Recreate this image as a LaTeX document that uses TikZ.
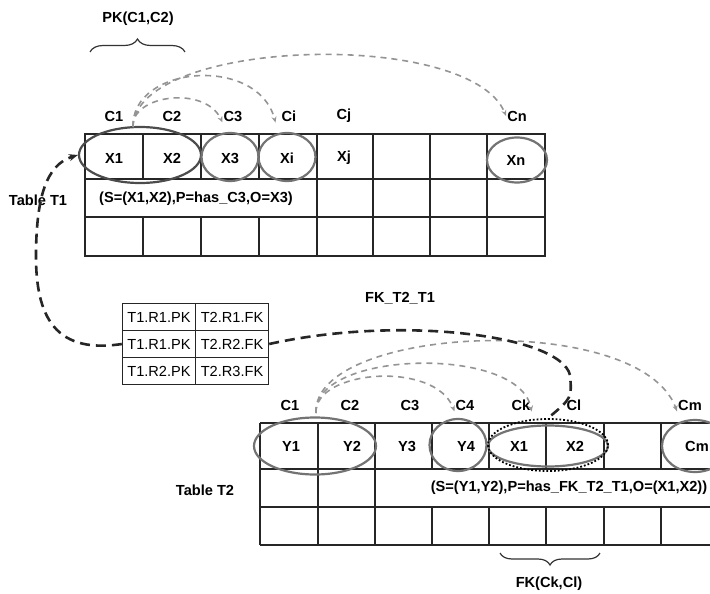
\documentclass[tikz,border=0pt]{standalone}
\usepackage{fontspec}
\setmainfont{Liberation Sans}
\usetikzlibrary{arrows.meta, calc, shapes.geometric, decorations.pathreplacing}
\tikzset{
  hdr/.style    = {font=\fontsize{14.6}{16}\selectfont\bfseries, inner sep=1pt},
  val/.style    = {hdr},
  tlab/.style   = {hdr},
  mcell/.style  = {draw=black!85, line width=1.4pt, minimum width=73pt, minimum height=27pt,
                   inner sep=0pt, font=\fontsize{14.6}{16}\selectfont},
  grid/.style   = {draw=black!85, line width=1.3pt},
  frame/.style  = {draw=black!85, line width=2pt},
  oval/.style   = {ellipse, draw=black!55, line width=2.2pt, inner sep=0pt},
  dotoval/.style= {ellipse, draw=black, line width=1.8pt, dotted, inner sep=0pt},
  arcl/.style   = {-{Stealth[length=6pt, width=5pt]}, draw=black!42, line width=1.6pt,
                   dash pattern=on 6pt off 5pt},
  fkl/.style    = {-{Stealth[length=9pt, width=7pt]}, draw=black!85, line width=2.6pt,
                   dash pattern=on 10pt off 6pt},
  brc/.style    = {decorate, draw=black!80, line width=1.2pt},
}

\begin{document}
\begin{tikzpicture}[x=1pt, y=-1pt]
  \useasboundingbox (0,0) rectangle (710,594);

  % table T1
  \draw[frame] (85,134) rectangle (545,256);
  \draw[grid] (85,179) -- (545,179) (85,217) -- (545,217);
  \foreach \x in {143,201,259}
    \draw[grid] (\x,134) -- (\x,179) (\x,217) -- (\x,256);
  \foreach \x in {317,373,430,487}
    \draw[grid] (\x,134) -- (\x,256);

  \node[hdr] (t1c1) at (114,116) {C1};
  \node[hdr] (t1c2) at (172,116) {C2};
  \node[hdr] (t1c3) at (233,116) {C3};
  \node[hdr] (t1ci) at (289,116) {Ci};
  \node[hdr] (t1cj) at (344,116) {Cj};
  \node[hdr] (t1cn) at (517,116) {Cn};

  \node[val] (t1x1) at (114,158) {X1};
  \node[val] (t1x2) at (172,158) {X2};
  \node[val] (t1x3) at (230,158) {X3};
  \node[val] (t1xi) at (287,158) {Xi};
  \node[val] (t1xj) at (344,158) {Xj};
  \node[val] (t1xn) at (516,160) {Xn};
  \node[val] (t1tr) at (196,199) {(S=(X1,X2),P=has\_C3,O=X3)};
  \node[tlab] (t1lab) at (38,200) {Table T1};

  \node[oval, draw=black!70, minimum width=122pt, minimum height=56pt] (pk1) at (140,155) {};
  \node[oval, minimum width=57pt, minimum height=48pt] (ov3) at (230,157) {};
  \node[oval, minimum width=57pt, minimum height=48pt] (ovi) at (287,157) {};
  \node[oval, minimum width=60pt, minimum height=45pt] (ovn) at (517,160) {};

  \node[hdr] (pklab) at (138,19) {PK(C1,C2)};
  \draw[brc, decoration={brace, amplitude=13pt}] (90,52) -- (185,52);

  \coordinate (o1) at (133,127);
  \draw[arcl] (o1) .. controls (131,95) and (205,85) .. (t1c3.south west);
  \draw[arcl] (o1) .. controls (131,65) and (258,55) .. ([xshift=-5pt]t1ci.south west);
  \draw[arcl] (o1) .. controls (135,38) and (470,28) .. (t1cn.west);

  % link table
  \node[mcell] (m11) at (159,317) {T1.R1.PK};
  \node[mcell] (m12) at (232,317) {T2.R1.FK};
  \node[mcell] (m21) at (159,344) {T1.R1.PK};
  \node[mcell] (m22) at (232,344) {T2.R2.FK};
  \node[mcell] (m31) at (159,371) {T1.R2.PK};
  \node[mcell] (m32) at (232,371) {T2.R3.FK};
  \node[hdr] (fklab) at (400,298) {FK\_T2\_T1};

  % table T2
  \draw[frame] (260,423) -- (718,423) (260,545) -- (718,545) (260,423) -- (260,545);
  \draw[grid] (260,469) -- (718,469) (260,507) -- (718,507);
  \foreach \x in {318,375}
    \draw[grid] (\x,423) -- (\x,545);
  \foreach \x in {432,489,546,604,661}
    \draw[grid] (\x,423) -- (\x,469) (\x,507) -- (\x,545);

  \node[hdr] (t2c1) at (290,405) {C1};
  \node[hdr] (t2c2) at (350,405) {C2};
  \node[hdr] (t2c3) at (410,405) {C3};
  \node[hdr] (t2c4) at (465,405) {C4};
  \node[hdr] (t2ck) at (521,405) {Ck};
  \node[hdr] (t2cl) at (574,405) {Cl};
  \node[hdr] (t2cm) at (690,405) {Cm};

  \node[val] (t2y1) at (291,446) {Y1};
  \node[val] (t2y2) at (352,446) {Y2};
  \node[val] (t2y3) at (407,446) {Y3};
  \node[val] (t2y4) at (466,446) {Y4};
  \node[val] (t2x1) at (519,446) {X1};
  \node[val] (t2x2) at (575,446) {X2};
  \node[val] (t2xm) at (697,446) {Cm};
  \node[val] (t2tr) at (569,488) {(S=(Y1,Y2),P=has\_FK\_T2\_T1,O=(X1,X2))};
  \node[tlab] (t2lab) at (205,490) {Table T2};

  \node[oval, minimum width=122pt, minimum height=57pt] (pk2) at (315,446) {};
  \node[oval, minimum width=57pt, minimum height=52pt] (ov4) at (458,445) {};
  \node[oval, minimum width=120pt, minimum height=41pt] (fkv) at (548,446) {};
  \node[dotoval, minimum width=120pt, minimum height=52pt] (fkov) at (548,445) {};
  \node[oval, minimum width=66pt, minimum height=52pt] (ovm) at (695,446) {};

  \node[hdr] (fkcl) at (549,584) {FK(Ck,Cl)};
  \draw[brc, decoration={brace, amplitude=12pt}] (600,553) -- (500,553);

  \coordinate (o2) at (316,413);
  \draw[arcl] (o2) .. controls (314,370) and (435,360) .. (t2c4.south west);
  \draw[arcl] (o2) .. controls (313,350) and (520,345) .. (t2ck.south east);
  \draw[arcl] (o2) .. controls (312,325) and (640,310) .. (t2cm.south west);

  % foreign key link
  \draw[fkl, -] (m22.east) .. controls (400,315) and (560,335) .. (570,375)
    .. controls (572,398) .. (fkov.north);
  \draw[fkl] (m21.west) .. controls (50,355) and (35,310) .. (36,250)
    .. controls (37,200) and (45,165) .. (pk1.west);
\end{tikzpicture}
\end{document}
